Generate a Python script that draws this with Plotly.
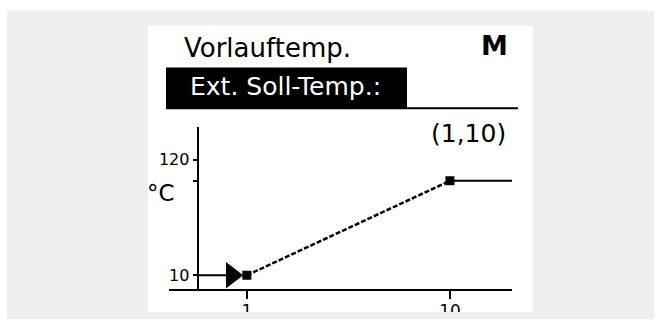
import plotly.graph_objects as go

# Heating curve: external set-point signal -> flow temperature
curve_x = [1, 10, 12.75]          # signal value (V); last point = end of the axis
curve_y = [10, 100, 100]          # flow temperature (°C)
point_x = [1, 10]
point_y = [10, 100]
input_x = 0.33                    # current signal marker
input_y = 10
y_axis_x = -1.18                  # where the temperature axis crosses the signal axis

x_ticks = [1, 10]
x_tick_text = ["1", "10"]
y_ticks = [10, 100, 120]
y_tick_text = ["10", "", "120"]

title_text = "Vorlauftemp."
menu_text = "Ext. Soll-Temp.:"
mode_text = "M"
point_label = "(1,10)"
unit_text = "°C"

W, H = 661, 321
FONT = "DejaVu Sans"
GRAY = "#efefef"


def px(p):
    return p / W


def py(p):
    return 1 - p / H


# pixel placement of the plot frame
x_lo, x_hi = -2.45, 12.75
x_dom = [px(169), px(512)]
y_dom = [py(292), py(128)]
y_per_px = 1 / 1.0556
y_lo = 10 - (292 - 277) * y_per_px
y_hi = 10 + (277 - 128) * y_per_px
x_scale = (512 - 169) / (x_hi - x_lo)
y_axis_px = 169 + (y_axis_x - x_lo) * x_scale

fig = go.Figure()

# sloped part of the curve
fig.add_trace(go.Scatter(
    x=curve_x[:2], y=curve_y[:2], mode="lines",
    line=dict(color="black", width=2.5, dash="5px,2px"),
    hoverinfo="skip"))
# flat part after the upper point
fig.add_trace(go.Scatter(
    x=curve_x[1:], y=curve_y[1:], mode="lines",
    line=dict(color="black", width=2),
    hoverinfo="skip"))
# input signal line and arrow
fig.add_trace(go.Scatter(
    x=[y_axis_x, input_x - 0.05], y=[input_y, input_y], mode="lines",
    line=dict(color="black", width=2),
    hoverinfo="skip"))
fig.add_trace(go.Scatter(
    x=[input_x], y=[input_y], mode="markers",
    marker=dict(symbol="triangle-right", size=23, color="black",
                line=dict(width=0)),
    hoverinfo="skip"))
# curve break points
fig.add_trace(go.Scatter(
    x=point_x, y=point_y, mode="markers",
    marker=dict(symbol="square", size=9, color="black", line=dict(width=0)),
    hoverinfo="skip"))

shapes = [
    dict(type="rect", xref="paper", yref="paper", layer="below",
         x0=px(7), x1=px(654), y0=py(321), y1=py(11),
         fillcolor=GRAY, line=dict(width=0)),
    dict(type="rect", xref="paper", yref="paper", layer="below",
         x0=px(148), x1=px(533), y0=py(314), y1=py(26),
         fillcolor="white", line=dict(width=0)),
    dict(type="rect", xref="paper", yref="paper", layer="below",
         x0=px(166), x1=px(407), y0=py(110), y1=py(68),
         fillcolor="black", line=dict(width=0)),
    dict(type="line", xref="paper", yref="paper", layer="below",
         x0=px(407), x1=px(518), y0=py(109), y1=py(109),
         line=dict(color="black", width=2)),
    # display edge below the axis labels
    dict(type="rect", xref="paper", yref="paper", layer="above",
         x0=px(140), x1=px(540), y0=py(321), y1=py(314),
         fillcolor=GRAY, line=dict(width=0)),
]


def label(text, x, y, xanchor, size, color="black"):
    return dict(text=text, xref="paper", yref="paper", x=px(x), y=py(y),
                xanchor=xanchor, yanchor="middle", showarrow=False,
                font=dict(family=FONT, size=size, color=color))


annotations = [
    label(title_text, 182, 48, "left", 26),
    label(menu_text, 188, 87, "left", 25, "white"),
    label("<b>" + mode_text + "</b>", 494, 46, "center", 27),
    label(point_label, 508, 134, "right", 25),
    label(unit_text, 177, 194, "right", 23),
]

fig.update_layout(
    width=W, height=H,
    margin=dict(l=0, r=0, t=0, b=0),
    paper_bgcolor="white",
    plot_bgcolor="rgba(0,0,0,0)",
    showlegend=False,
    shapes=shapes,
    annotations=annotations,
    xaxis=dict(
        domain=x_dom, range=[x_lo, x_hi], anchor="free", position=py(292),
        showline=True, linecolor="black", linewidth=2,
        showgrid=False, zeroline=False,
        ticks="outside", ticklen=8, tickwidth=2, tickcolor="black",
        tickvals=x_ticks, ticktext=x_tick_text, ticklabelstandoff=-3,
        tickfont=dict(family=FONT, size=17, color="black"),
        fixedrange=True,
    ),
    yaxis=dict(
        domain=y_dom, range=[y_lo, y_hi], anchor="free", position=px(y_axis_px),
        showline=True, linecolor="black", linewidth=2,
        showgrid=False, zeroline=False,
        ticks="outside", ticklen=4, tickwidth=2, tickcolor="black",
        tickvals=y_ticks, ticktext=y_tick_text,
        tickfont=dict(family=FONT, size=16, color="black"),
        fixedrange=True,
    ),
)

fig.write_html("out.html", config={"displayModeBar": False})
